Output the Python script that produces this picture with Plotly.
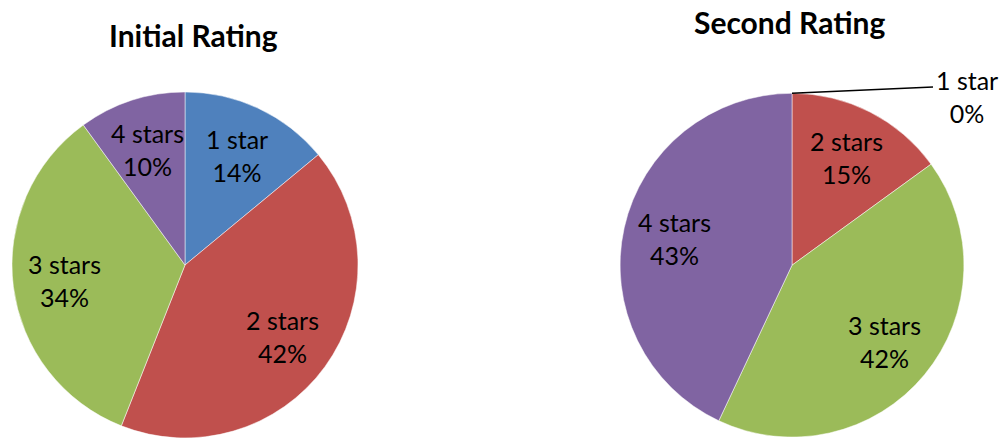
import math
import plotly.graph_objects as go

# Rating categories and their shares (percent) in each survey round
categories = ["1 star", "2 stars", "3 stars", "4 stars"]
initial_values = [14, 42, 34, 10]
second_values = [0, 15, 42, 43]

colors = ["#4F81BD", "#C0504D", "#9BBB59", "#8064A2"]
FONT = "Lato, Calibri, Carlito, sans-serif"

W, H = 1000, 438
left_dom = dict(x=[0.012, 0.358], y=[0.0, 0.790])
right_dom = dict(x=[0.620, 0.964], y=[0.002, 0.787])
LABEL_RADIUS = 0.70   # label distance from centre, as a fraction of the radius
LABEL_SIZE = 25

fig = go.Figure()


def add_pie(values, dom):
    fig.add_trace(go.Pie(
        labels=categories, values=values, sort=False,
        direction="clockwise", rotation=0, domain=dom,
        marker=dict(colors=colors, line=dict(color="white", width=0.5)),
        textinfo="none", hoverinfo="label+percent", showlegend=False,
    ))
    # data labels placed along each slice's mid-angle (clockwise from 12 o'clock)
    cx = sum(dom["x"]) / 2 * W
    cy = (1 - sum(dom["y"]) / 2) * H
    r = min((dom["x"][1] - dom["x"][0]) * W, (dom["y"][1] - dom["y"][0]) * H) / 2
    total = sum(values)
    start = 0.0
    for name, v in zip(categories, values):
        share = v / total
        if v > 0:
            mid = (start + share / 2) * 2 * math.pi
            px = cx + LABEL_RADIUS * r * math.sin(mid)
            py = cy - LABEL_RADIUS * r * math.cos(mid)
            fig.add_annotation(
                xref="paper", yref="paper", x=px / W, y=1 - py / H,
                xanchor="center", yanchor="middle", showarrow=False,
                text=f"{name}<br>{round(share * 100)}%", align="center",
                font=dict(family=FONT, size=LABEL_SIZE, color="black"))
        start += share
    return cx, cy, r


add_pie(initial_values, left_dom)
rcx, rcy, rr = add_pie(second_values, right_dom)

# the zero-share slice of the second pie is labelled outside, with a leader line
fig.add_shape(type="line", xref="paper", yref="paper",
              x0=rcx / W, y0=1 - (rcy - rr) / H, x1=0.933, y1=1 - 87 / H,
              line=dict(color="black", width=1.5))
fig.add_annotation(xref="paper", yref="paper", x=0.967, y=1 - 96 / H,
                   xanchor="center", yanchor="middle",
                   text=f"{categories[0]}<br>{second_values[0]}%",
                   showarrow=False, align="center",
                   font=dict(family=FONT, size=LABEL_SIZE, color="black"))

# chart titles
fig.add_annotation(xref="paper", yref="paper", x=0.193, y=1 - 35 / H,
                   xanchor="center", yanchor="middle",
                   text="<b>Initial Rating</b>", showarrow=False,
                   font=dict(family=FONT, size=30, color="black"))
fig.add_annotation(xref="paper", yref="paper", x=0.789, y=1 - 22 / H,
                   xanchor="center", yanchor="middle",
                   text="<b>Second Rating</b>", showarrow=False,
                   font=dict(family=FONT, size=30, color="black"))

fig.update_layout(width=W, height=H, margin=dict(l=0, r=0, t=0, b=0),
                  paper_bgcolor="white", plot_bgcolor="white")
fig.write_html("out.html")
